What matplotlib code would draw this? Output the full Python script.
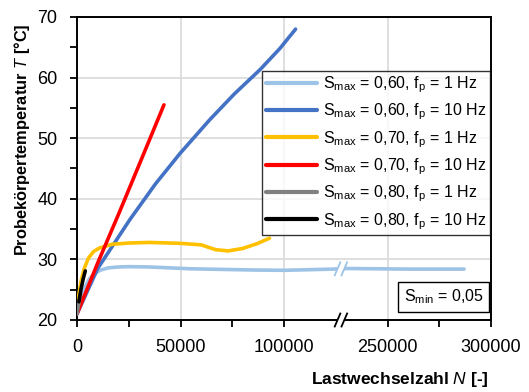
import matplotlib
matplotlib.use('Agg')
import matplotlib.pyplot as plt
import numpy as np
from matplotlib.patches import Rectangle
from matplotlib.transforms import IdentityTransform

plt.rcParams['font.family'] = ['Liberation Sans', 'DejaVu Sans']
plt.rcParams['mathtext.fontset'] = 'custom'
plt.rcParams['mathtext.rm'] = 'Liberation Sans'
plt.rcParams['mathtext.it'] = 'Liberation Sans:italic'
plt.rcParams['mathtext.bf'] = 'Liberation Sans:bold'

# x-axis is broken: actual N between GAP_LO and GAP_HI is left out
GAP_LO = 125000
GAP_HI = 225000

def to_disp(n):
    n = np.asarray(n, dtype=float)
    return np.where(n >= GAP_HI, n - (GAP_HI - GAP_LO), n)

# S_max = 0,60, f_p = 1 Hz
n_060_1 = [0, 2000, 4000, 6000, 8000, 11000, 15000, 20000, 25000, 35000, 45000, 55000,
           70000, 85000, 100000, 112000, 124000, 230000, 245000, 260000, 275000, 287000]
t_060_1 = [21.0, 23.6, 25.5, 26.8, 27.5, 28.2, 28.6, 28.75, 28.8, 28.75, 28.6, 28.45,
           28.35, 28.25, 28.2, 28.3, 28.4, 28.5, 28.45, 28.4, 28.4, 28.4]
# S_max = 0,60, f_p = 10 Hz
n_060_10 = [0, 10000, 25600, 38000, 49800, 64000, 76000, 88400, 98000, 105600]
t_060_10 = [21.0, 28.5, 36.6, 42.5, 47.5, 53.0, 57.3, 61.3, 64.8, 68.0]
# S_max = 0,70, f_p = 1 Hz
n_070_1 = [0, 800, 2000, 3500, 5500, 8000, 11000, 17000, 25000, 35000, 50000, 60000,
           67000, 73000, 80000, 87000, 93000]
t_070_1 = [22.3, 24.0, 26.5, 28.5, 30.2, 31.3, 31.9, 32.5, 32.7, 32.8, 32.65, 32.4,
           31.6, 31.4, 31.8, 32.6, 33.5]
# S_max = 0,70, f_p = 10 Hz
n_070_10 = [0, 10000, 20000, 30000, 42000]
t_070_10 = [21.0, 29.4, 37.4, 45.6, 55.5]
# S_max = 0,80, f_p = 1 Hz
n_080_1 = [0, 800, 1700]
t_080_1 = [21.0, 22.6, 24.3]
# S_max = 0,80, f_p = 10 Hz
n_080_10 = [900, 2000, 3000, 4000]
t_080_10 = [23.0, 25.2, 26.8, 28.1]

labels = [r'S$_{\mathregular{max}}$ = 0,60, f$_{\mathregular{p}}$ = 1 Hz',
          r'S$_{\mathregular{max}}$ = 0,60, f$_{\mathregular{p}}$ = 10 Hz',
          r'S$_{\mathregular{max}}$ = 0,70, f$_{\mathregular{p}}$ = 1 Hz',
          r'S$_{\mathregular{max}}$ = 0,70, f$_{\mathregular{p}}$ = 10 Hz',
          r'S$_{\mathregular{max}}$ = 0,80, f$_{\mathregular{p}}$ = 1 Hz',
          r'S$_{\mathregular{max}}$ = 0,80, f$_{\mathregular{p}}$ = 10 Hz']
colors = ['#9DC3E6', '#4472C4', '#FFC000', '#FF0000', '#808080', '#000000']

x_tick_labels = [0, 50000, 100000, 250000, 300000]
x_minor = [25000, 75000, 275000]
y_ticks = [20, 30, 40, 50, 60, 70]
y_minor = [25, 35, 45, 55, 65]

fig = plt.figure(figsize=(5.29, 3.92), dpi=100)
ax = fig.add_axes([77/529, 1-320/392, 414/529, 303/392])

series = [(n_060_1, t_060_1), (n_060_10, t_060_10), (n_070_1, t_070_1),
          (n_070_10, t_070_10), (n_080_1, t_080_1), (n_080_10, t_080_10)]
for (n, t), c, lab in zip(series, colors, labels):
    ax.plot(to_disp(n), t, color=c, lw=2.6, label=lab, solid_capstyle='round', zorder=3)

ax.set_xlim(0, to_disp(300000))
ax.set_ylim(20, 70)
ax.set_xticks(to_disp(x_tick_labels))
ax.set_xticklabels([str(v) for v in x_tick_labels])
ax.set_xticks(to_disp(x_minor), minor=True)
ax.set_yticks(y_ticks)
ax.set_yticks(y_minor, minor=True)
ax.grid(True, which='major', color='#d9d9d9', lw=1.2, zorder=0)
ax.set_axisbelow(True)
ax.tick_params(which='both', direction='out', length=5, width=1.3, labelsize=13, color='black')
ax.tick_params(axis='y', pad=9)
ax.tick_params(axis='x', pad=9)
for s in ax.spines.values():
    s.set_linewidth(1.4)

ax.set_ylabel(r'Probekörpertemperatur $\mathbf{\mathit{T}}$ [°C]', fontsize=11.8, fontweight='bold')
ax.yaxis.set_label_coords(-0.108, 0.594)
ax.set_xlabel(r'Lastwechselzahl $\mathbf{\mathit{N}}$ [-]', fontsize=12.5, fontweight='bold',
              ha='right')
ax.xaxis.set_label_coords(0.995, -0.165)

leg = ax.legend(loc='upper right', bbox_to_anchor=(0.9976, 0.822), borderaxespad=0,
                fontsize=11.5, frameon=True, fancybox=False, edgecolor='black',
                handlelength=3.2, handletextpad=0.4, labelspacing=0.42, borderpad=0.22)
leg.get_frame().set_linewidth(1.0)
for h in leg.get_lines():
    h.set_linewidth(3.0)

ax.text(0.982, 0.045, r'S$_{\mathregular{min}}$ = 0,05', transform=ax.transAxes,
        ha='right', va='bottom', fontsize=11.5,
        bbox=dict(boxstyle='square,pad=0.35', fc='white', ec='black', lw=1.0), zorder=5)

# break marks "//" on the x-axis and on the 1 Hz / 0,60 curve
fig.canvas.draw()
xb = 127500
pix = IdentityTransform()
for yv, c in [(20, 'black'), (28.45, colors[0])]:
    px, py = ax.transData.transform((xb, yv))
    ax.add_patch(Rectangle((px - 3.5, py - 4), 7, 8, transform=pix, fc='white',
                           ec='none', clip_on=False, zorder=6))
    for dx in (-3.4, 3.4):
        ax.plot([px + dx - 2.8, px + dx + 2.8], [py - 6.5, py + 6.5], color=c,
                lw=1.3, transform=pix, clip_on=False, zorder=7)

fig.savefig('out.png', dpi=100)
